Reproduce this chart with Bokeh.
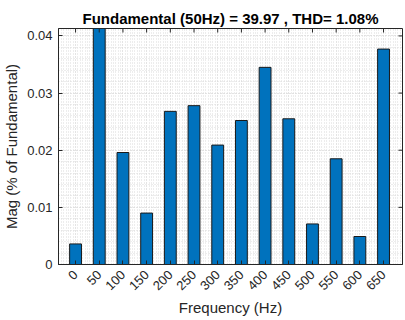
from math import pi
from bokeh.plotting import figure
from bokeh.models import (ColumnDataSource, FixedTicker, Range1d,
                          NumeralTickFormatter)
from bokeh.embed import file_html
from bokeh.resources import INLINE

# ---- data ----
freqs = [0, 50, 100, 150, 200, 250, 300, 350, 400, 450, 500, 550, 600, 650]
mags = [0.0036, 0.0500, 0.0196, 0.0090, 0.0268, 0.0278, 0.0209, 0.0252,
        0.0345, 0.0255, 0.0071, 0.0185, 0.0049, 0.0377]
title_text = "Fundamental (50Hz) = 39.97 , THD= 1.08%"
x_label = "Frequency (Hz)"
y_label = "Mag (% of Fundamental)"
y_ticks = [0, 0.01, 0.02, 0.03, 0.04]

X_MIN, X_MAX = -36, 690
Y_MIN, Y_MAX = 0, 0.0413

FONT = "Liberation Sans"
TXT = "#262626"

src = ColumnDataSource(data=dict(f=freqs, m=mags))

p = figure(output_backend="svg", toolbar_location=None,
           x_range=Range1d(X_MIN, X_MAX), y_range=Range1d(Y_MIN, Y_MAX),
           frame_width=344, frame_height=236,
           min_border_left=51, min_border_right=1, min_border_top=28,
           min_border_bottom=46)

p.vbar(x="f", top="m", width=25, source=src, fill_color="#0072BD",
       line_color="#1a1a1a", line_width=1)

# inward tick marks on the top and right box edges
p.scatter(x=freqs, y=[Y_MAX] * len(freqs), marker="dash", angle=pi / 2,
          size=8, line_color=TXT, line_width=1)
p.scatter(x=[X_MAX] * len(y_ticks), y=y_ticks, marker="dash",
          size=8, line_color=TXT, line_width=1)

p.title.text = title_text
p.title.align = "center"
p.title.text_font = FONT
p.title.text_font_size = "15px"
p.title.text_font_style = "bold"
p.title.text_color = "#000000"
p.title.standoff = 4

xt = FixedTicker(ticks=freqs, minor_ticks=list(range(-35, 691, 5)))
yt = FixedTicker(ticks=y_ticks, minor_ticks=[i * 0.002 for i in range(0, 21)])

p.xaxis.ticker = xt
p.yaxis.ticker = yt
p.yaxis.formatter = NumeralTickFormatter(format="0.[00]")
p.xaxis.major_label_orientation = pi / 4

for ax in (p.xaxis[0], p.yaxis[0]):
    ax.major_tick_in = 4
    ax.major_tick_out = 0
    ax.minor_tick_in = 0
    ax.minor_tick_out = 0
    ax.axis_line_color = TXT
    ax.major_tick_line_color = TXT
    ax.major_label_text_font = FONT
    ax.major_label_text_font_size = "13px"
    ax.major_label_text_color = TXT
    ax.axis_label_text_font = FONT
    ax.axis_label_text_font_size = "15px"
    ax.axis_label_text_font_style = "normal"
    ax.axis_label_text_color = TXT

p.xaxis.axis_label = x_label
p.yaxis.axis_label = y_label
p.xaxis.major_label_standoff = 8
p.yaxis.major_label_standoff = 6
p.xaxis.axis_label_standoff = 2
p.yaxis.axis_label_standoff = 4

for g in (p.xgrid[0], p.ygrid[0]):
    g.grid_line_color = "#dadada"
    g.grid_line_dash = "1 2"
    g.minor_grid_line_color = "#dadada"
    g.minor_grid_line_dash = "1 2"

p.outline_line_color = TXT
p.background_fill_color = "white"
p.border_fill_color = "white"

open("out.html", "w").write(file_html(p, INLINE))
